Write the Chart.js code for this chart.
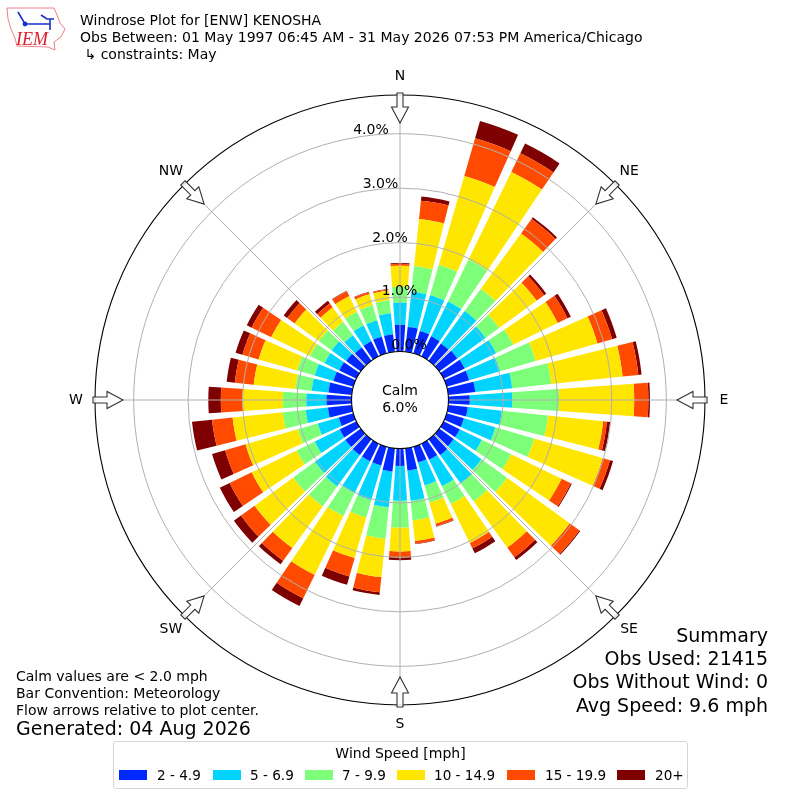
<!DOCTYPE html>
<html>
<head>
<meta charset="utf-8">
<title>Windrose Plot</title>
<script src="https://cdn.jsdelivr.net/npm/chart.js@4"></script>
<style>
body { margin: 0; background: #fff; font-family: "DejaVu Sans", sans-serif; color: #000; }
#wrap { position: relative; width: 800px; height: 800px; overflow: hidden; }
canvas { position: absolute; left: 0; top: 0; }
.txt { position: absolute; white-space: nowrap; line-height: 17px; }
#legendBox { position: absolute; left: 113px; top: 741px; width: 573px; height: 46px; border: 1px solid #d5d5d5; border-radius: 3px; background: #fff; }
#legendTitle { position: absolute; left: 0; width: 100%; top: 3px; text-align: center; font-size: 14px; line-height: 17px; }
.swatch { position: absolute; top: 28px; width: 28px; height: 10px; }
.item { position: absolute; top: 25px; font-size: 13.6px; line-height: 17px; white-space: nowrap; }
</style>
</head>
<body>
<div id="wrap">
  <canvas id="rose" width="800" height="800"></canvas>
  <svg style="position:absolute;left:5px;top:5px" width="62" height="48" viewBox="5 5 62 48">
    <path d="M7 8 L54 8 L57 15 L60 23 L65 29 L61 37 L54 42 L55 50 L48 47 L17 46 L15 38 L11 29 L8 19 Z" fill="none" stroke="#e8606a" stroke-width="0.8"/>
    <path d="M18 12 L25 24 L50 24 M41 15 L47 19 L54 19 M50 19 L50 30" fill="none" stroke="#1a2fd0" stroke-width="1.6"/>
    <circle cx="25" cy="24" r="2.4" fill="#1a2fd0"/>
    <text x="16" y="45" font-family="Liberation Serif" font-style="italic" font-size="18" fill="#d8202a">IEM</text>
  </svg>
  <div class="txt" style="left:80px;top:12px;font-size:14px">Windrose Plot for [ENW] KENOSHA</div>
  <div class="txt" style="left:80px;top:29px;font-size:14px">Obs Between: 01 May 1997 06:45 AM - 31 May 2026 07:53 PM America/Chicago</div>
  <div class="txt" style="left:80px;top:46px;font-size:14px">&nbsp;↳ constraints: May</div>
  <div class="txt" style="left:16px;top:668px;font-size:14px">Calm values are &lt; 2.0 mph</div>
  <div class="txt" style="left:16px;top:685px;font-size:14px">Bar Convention: Meteorology</div>
  <div class="txt" style="left:16px;top:702px;font-size:14px">Flow arrows relative to plot center.</div>
  <div class="txt" style="left:16px;top:720px;font-size:19px">Generated: 04 Aug 2026</div>
  <div class="txt" style="right:32px;top:627px;font-size:19px">Summary</div>
  <div class="txt" style="right:32px;top:650px;font-size:19px">Obs Used: 21415</div>
  <div class="txt" style="right:32px;top:673px;font-size:19px">Obs Without Wind: 0</div>
  <div class="txt" style="right:32px;top:697px;font-size:19px">Avg Speed: 9.6 mph</div>
  <div id="legendBox"><div id="legendTitle">Wind Speed [mph]</div></div>
</div>
<script>
// compass points for the spokes
const compass = ['N', 'NE', 'E', 'SE', 'S', 'SW', 'W', 'NW'];
const tickValues = [0, 1, 2, 3, 4];
const speedBins = ['2 - 4.9', '5 - 6.9', '7 - 9.9', '10 - 14.9', '15 - 19.9', '20+'];
const binColors = ['#0028ff', '#00d4ff', '#7dff7a', '#ffe600', '#ff4a00', '#7f0000'];

// percent of obs per direction, 0 to 350 deg in 10 deg steps
const bin2to5 = [.49, .46, .43, .41, .39, .41, .43, .43, .50, .39, .36, .33, .33, .33, .36, .33, .30, .41,
                 .32, .43, .36, .36, .36, .35, .34, .28, .44, .46, .43, .38, .35, .33, .30, .31, .32, .32];
const bin5to7 = [.41, .65, .68, .71, .74, .64, .64, .59, .68, .78, .63, .60, .45, .63, .64, .54, .44, .56,
                 .64, .66, .66, .65, .71, .69, .51, .40, .41, .37, .31, .36, .30, .33, .28, .32, .31, .39];
const bin7to10 = [.29, .47, .58, .86, .50, .31, .35, .68, .72, .86, .85, .74, .60, .58, .41, .36, .33, .36,
                  .49, .58, .33, .47, .45, .49, .37, .38, .42, .43, .30, .33, .30, .29, .30, .28, .29, .24];
const bin10to15 = [.385, .87, 1.70, 1.79, 1.26, .85, .91, 1.18, 1.32, 1.38, 1.02, 1.31, 1.03, 1.42, 1.05, .80, .40, .38,
                   .44, .71, .78, 1.20, .95, .88, .92, 1.00, .93, .74, .77, .74, .79, .55, .33, .32, .21, .18];
const bin15to20 = [.035, .34, .72, .38, .33, .17, .20, .28, .29, .26, .07, .14, .19, .22, .22, .11, .05, .05,
                   .11, .28, .35, .48, .29, .31, .45, .39, .38, .40, .35, .31, .40, .17, .09, .10, .04, .02];
const bin20up = [.015, .075, .33, .20, .04, .05, .07, .09, .06, .03, .06, .06, .02, .02, .06, .10, .01, .01,
                 .05, .05, .16, .16, .08, .16, .20, .25, .37, .23, .15, .13, .10, .08, .06, .01, .01, .01];
const binValues = [bin2to5, bin5to7, bin7to10, bin10to15, bin15to20, bin20up];

const BAR_DEG = 8;
const GRID = '#b0b0b0';

// polar area arcs, but stacked and centred on each direction
class WindRoseController extends Chart.PolarAreaController {
    updateElements(arcs, start, count, mode) {
        const scale = this._cachedMeta.rScale;
        const datasets = this.chart.data.datasets;
        const half = BAR_DEG * Math.PI / 360;
        for (let i = start; i < start + count; i++) {
            let lower = 0;
            for (let d = 0; d < this.index; d++) {
                lower += datasets[d].data[i];
            }
            const upper = lower + datasets[this.index].data[i];
            const mid = i * 2 * Math.PI / this._cachedMeta.data.length - Math.PI / 2;
            this.updateElement(arcs[i], i, {
                x: scale.xCenter,
                y: scale.yCenter,
                innerRadius: scale.getDistanceFromCenterForValue(lower),
                outerRadius: scale.getDistanceFromCenterForValue(upper),
                startAngle: mid - half,
                endAngle: mid + half,
                circumference: half * 2,
                options: this.resolveDataElementOptions(i, mode)
            }, mode);
        }
    }
}
WindRoseController.id = 'windRose';
Chart.register(WindRoseController);

const drawArrow = (ctx, pos) => {
    ctx.save();
    ctx.translate(pos.x, pos.y);
    ctx.rotate(pos.angle);
    ctx.beginPath();
    ctx.moveTo(2, -3);
    ctx.lineTo(-12, -3);
    ctx.lineTo(-12, -8.5);
    ctx.lineTo(-28, 0);
    ctx.lineTo(-12, 8.5);
    ctx.lineTo(-12, 3);
    ctx.lineTo(2, 3);
    ctx.closePath();
    ctx.fillStyle = 'rgba(255,255,255,0.85)';
    ctx.fill();
    ctx.strokeStyle = '#333';
    ctx.lineWidth = 1.1;
    ctx.stroke();
    ctx.restore();
};

const roseExtras = {
    id: 'roseExtras',
    afterDraw(chart) {
        const ctx = chart.ctx;
        const scale = chart.scales.r;
        const cx = scale.xCenter, cy = scale.yCenter;
        const outer = scale.getDistanceFromCenterForValue(scale.max);
        const hole = scale.getDistanceFromCenterForValue(0);

        ctx.save();
        ctx.beginPath();
        ctx.arc(cx, cy, outer, 0, Math.PI * 2);
        ctx.strokeStyle = '#000';
        ctx.lineWidth = 1.1;
        ctx.stroke();

        ctx.beginPath();
        ctx.arc(cx, cy, hole, 0, Math.PI * 2);
        ctx.fillStyle = '#fff';
        ctx.fill();
        ctx.strokeStyle = '#000';
        ctx.stroke();

        ctx.fillStyle = '#000';
        ctx.font = '14px "DejaVu Sans"';
        ctx.textAlign = 'center';
        ctx.textBaseline = 'middle';
        ctx.fillText('Calm', cx, cy - 9);
        ctx.fillText('6.0%', cx, cy + 8);

        tickValues.forEach(v => {
            const d = scale.getDistanceFromCenterForValue(v);
            ctx.fillText(v.toFixed(1) + '%', cx + 9 - 9.5 * v, cy - d - 6 + 0.7 * v);
        });

        compass.forEach((name, i) => {
            drawArrow(ctx, scale.getPointPosition(i, outer));
            const p = scale.getPointPosition(i, outer + 19);
            ctx.fillStyle = '#000';
            ctx.fillText(name, p.x, p.y);
        });
        ctx.restore();
    }
};

new Chart(document.getElementById('rose').getContext('2d'), {
    type: 'windRose',
    data: {
        labels: compass,
        datasets: binValues.map((values, i) => ({
            label: speedBins[i],
            data: values,
            backgroundColor: binColors[i],
            borderWidth: 0
        }))
    },
    options: {
        responsive: false,
        animation: false,
        layout: { padding: 95 },
        plugins: { legend: { display: false }, tooltip: { enabled: false } },
        scales: {
            r: {
                min: -0.89,
                max: 4.71,
                startAngle: 0,
                ticks: { display: false, stepSize: 1, includeBounds: false },
                pointLabels: { display: false },
                grid: { z: 1, circular: true, color: GRID, lineWidth: 1 },
                angleLines: { display: true, color: GRID, lineWidth: 1 }
            }
        }
    },
    plugins: [roseExtras]
});

// legend
const swatchLeft = [5, 99, 191, 283, 393, 503];
const itemLeft = [43, 136, 228, 320, 431, 541];
const legendBox = document.getElementById('legendBox');
for (let i = 0; i < speedBins.length; i++) {
    legendBox.insertAdjacentHTML('beforeend',
        '<div class="swatch" style="left:' + swatchLeft[i] + 'px;background:' + binColors[i] + '"></div>' +
        '<div class="item" style="left:' + itemLeft[i] + 'px">' + speedBins[i] + '</div>');
}
</script>
</body>
</html>
